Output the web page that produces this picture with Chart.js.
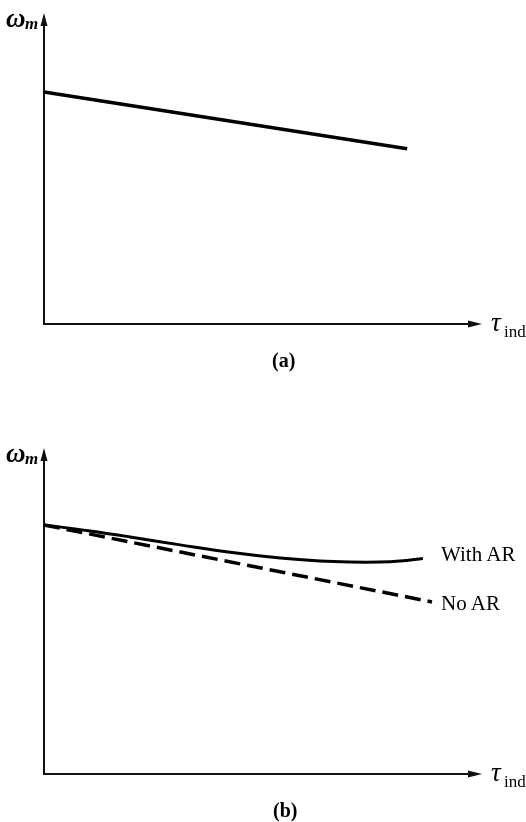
<!DOCTYPE html>
<html><head><meta charset="utf-8">
<script src="https://cdn.jsdelivr.net/npm/chart.js@4.4.0/dist/chart.umd.min.js"></script>
<style>
body{margin:0;background:#fff;width:526px;height:822px;overflow:hidden;position:relative;font-family:"Liberation Serif","Times New Roman",serif;}
canvas{position:absolute;left:0;}
.t{position:absolute;color:#000;white-space:nowrap;line-height:1;}
.w{font-size:27px;font-weight:bold;font-style:italic;}
.ws{font-size:17px;font-weight:bold;font-style:italic;}
.tau{font-size:27px;font-style:italic;}
.ind{font-size:17px;}
.lab{font-size:21px;}
.cap{font-size:20px;font-weight:bold;}
</style></head><body>
<canvas id="ca" width="526" height="360" style="top:0"></canvas>
<canvas id="cb" width="526" height="402" style="top:420px"></canvas>

<span class="t w" style="left:6px;top:5px">ω</span><span class="t ws" style="left:25px;top:15px">m</span>
<span class="t tau" style="left:491px;top:309px">τ</span><span class="t ind" style="left:504px;top:323px">ind</span>
<span class="t cap" style="left:272px;top:350px">(a)</span>

<span class="t w" style="left:6px;top:440px">ω</span><span class="t ws" style="left:25px;top:450px">m</span>
<span class="t tau" style="left:491px;top:759px">τ</span><span class="t ind" style="left:504px;top:773px">ind</span>
<span class="t lab" style="left:441px;top:544px">With AR</span>
<span class="t lab" style="left:441px;top:593px">No AR</span>
<span class="t cap" style="left:273px;top:800px">(b)</span>

<script>
// Chart (a): induced torque vs. mechanical speed
const torqueA = [0, 99.5];
const speedA = [1.0, 0.755];
// Chart (b)
const torqueWithAR = [0, 12.6, 23.6, 37.3, 51, 64.7, 75.6, 83.8, 92, 97.5, 103.8];
const speedWithAR  = [1.0, 0.976, 0.952, 0.920, 0.890, 0.867, 0.855, 0.851, 0.851, 0.855, 0.865];
const torqueNoAR = [0, 106.3];
const speedNoAR  = [1.0, 0.691];
const xMax = 120;
const yMaxA = 1.3405;
const yMaxB = 1.309;

const pts = (xs, ys) => xs.map((x, i) => ({x, y: ys[i]}));

const axesPlugin = {
  id: 'axes',
  beforeDatasetsDraw(chart) {
    const {ctx, chartArea: {left, right, top, bottom}} = chart;
    ctx.save();
    ctx.strokeStyle = '#111';
    ctx.fillStyle = '#111';
    ctx.lineWidth = 2;
    ctx.beginPath();
    ctx.moveTo(left, bottom + 1); ctx.lineTo(left, top + 10);
    ctx.moveTo(left - 1, bottom); ctx.lineTo(right - 10, bottom);
    ctx.stroke();
    ctx.beginPath();
    ctx.moveTo(left, top); ctx.lineTo(left - 3.5, top + 13); ctx.lineTo(left + 3.5, top + 13); ctx.closePath(); ctx.fill();
    ctx.beginPath();
    ctx.moveTo(right, bottom); ctx.lineTo(right - 14, bottom - 3.5); ctx.lineTo(right - 14, bottom + 3.5); ctx.closePath(); ctx.fill();
    ctx.restore();
  }
};

function opts(yMax, pad) {
  return {
    responsive: false,
    animation: false,
    devicePixelRatio: 1,
    layout: {padding: pad},
    plugins: {legend: {display: false}, tooltip: {enabled: false}},
    elements: {point: {radius: 0}},
    scales: {
      x: {type: 'linear', min: 0, max: xMax, display: false},
      y: {type: 'linear', min: 0, max: yMax, display: false}
    }
  };
}

new Chart(document.getElementById('ca'), {
  type: 'line',
  data: {datasets: [{
    data: pts(torqueA, speedA), borderColor: '#000', borderWidth: 3.5, tension: 0, clip: false
  }]},
  options: opts(yMaxA, {left: 44, right: 44, top: 13, bottom: 36}),
  plugins: [axesPlugin]
});

new Chart(document.getElementById('cb'), {
  type: 'line',
  data: {datasets: [
    {label: 'With AR', data: pts(torqueWithAR, speedWithAR), borderColor: '#000', borderWidth: 3, tension: 0.4, clip: false},
    {label: 'No AR', data: pts(torqueNoAR, speedNoAR), borderColor: '#000', borderWidth: 3.5, borderDash: [16, 7], tension: 0, clip: false}
  ]},
  options: opts(yMaxB, {left: 44, right: 44, top: 28, bottom: 48}),
  plugins: [axesPlugin]
});
</script>
</body></html>
